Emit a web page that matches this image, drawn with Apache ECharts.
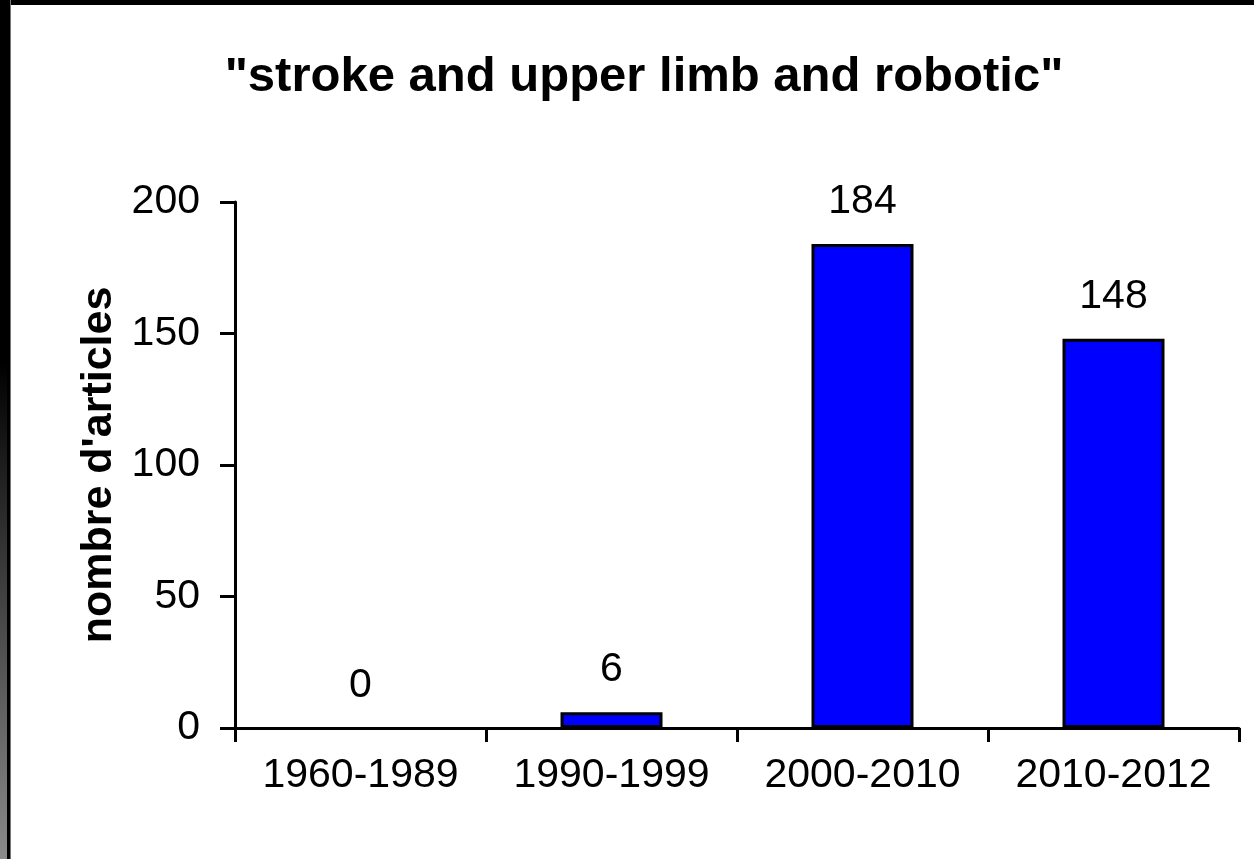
<!DOCTYPE html>
<html>
<head>
<meta charset="utf-8">
<script src="https://cdn.jsdelivr.net/npm/echarts@6/dist/echarts.min.js"></script>
<style>
  html, body { margin: 0; padding: 0; background: #fff; }
  #main { width: 1254px; height: 859px; }
</style>
</head>
<body>
<div id="main"></div>
<script>
// data
var periods = ['1960-1989', '1990-1999', '2000-2010', '2010-2012'];
var articles = [0, 6, 184, 148];
var yTicks = [0, 50, 100, 150, 200];

var chart = echarts.init(document.getElementById('main'));

// a zero bar draws no outline in the original
var barData = articles.map(function (v) {
  return v === 0 ? { value: v, itemStyle: { borderWidth: 0 } } : v;
});

var option = {
  backgroundColor: '#ffffff',
  animation: false,
  textStyle: { fontFamily: 'Liberation Sans' },
  title: {
    text: '"stroke and upper limb and robotic"',
    left: 639,
    top: 48,
    textAlign: 'center',
    textStyle: { fontFamily: 'Liberation Sans', fontSize: 49, fontWeight: 'bold', color: '#000' }
  },
  // black frame with the gray strip on the left
  graphic: [
    { type: 'rect', z: 100, shape: { x: 0, y: 0, width: 1254, height: 5 }, style: { fill: '#000' } },
    { type: 'rect', z: 100, shape: { x: 0, y: 0, width: 7, height: 859 },
      style: { fill: new echarts.graphic.LinearGradient(0, 0, 0, 1, [
        { offset: 0, color: '#000' }, { offset: 0.42, color: '#000' }, { offset: 1, color: '#8a8a8a' }
      ]) } },
    { type: 'rect', z: 100, shape: { x: 7, y: 0, width: 3, height: 859 }, style: { fill: '#000' } },
    { type: 'rect', z: 100, shape: { x: 10, y: 0, width: 1, height: 859 }, style: { fill: '#777' } }
  ],
  grid: { left: 235, right: 15, top: 202, bottom: 131 },
  xAxis: {
    type: 'category',
    data: periods,
    axisLine: { lineStyle: { color: '#000', width: 3 } },
    axisTick: { show: true, alignWithLabel: false, interval: 0, length: 14, lineStyle: { color: '#000', width: 3 } },
    axisLabel: { interval: 0, margin: 27, fontSize: 41, color: '#000', fontFamily: 'Liberation Sans' },
    splitLine: { show: false }
  },
  yAxis: {
    type: 'value',
    min: 0,
    max: 200,
    interval: 50,
    name: "nombre d'articles",
    nameLocation: 'middle',
    nameGap: 104,
    nameTextStyle: { fontFamily: 'Liberation Sans', fontSize: 43, fontWeight: 'bold', color: '#000' },
    axisLine: { show: true, lineStyle: { color: '#000', width: 3 } },
    axisTick: { show: true, length: 15, lineStyle: { color: '#000', width: 3 } },
    axisLabel: {
      margin: 35, fontSize: 41, color: '#000', fontFamily: 'Liberation Sans',
      formatter: function (v) { return yTicks.indexOf(v) >= 0 ? String(v) : ''; }
    },
    splitLine: { show: false }
  },
  series: [{
    type: 'bar',
    data: barData,
    barWidth: 102,
    itemStyle: { color: '#0000ff', borderColor: '#000', borderWidth: 3 },
    label: {
      show: true,
      position: 'top',
      distance: 22,
      fontSize: 41,
      color: '#000',
      fontFamily: 'Liberation Sans'
    }
  }]
};

chart.setOption(option);
</script>
</body>
</html>
